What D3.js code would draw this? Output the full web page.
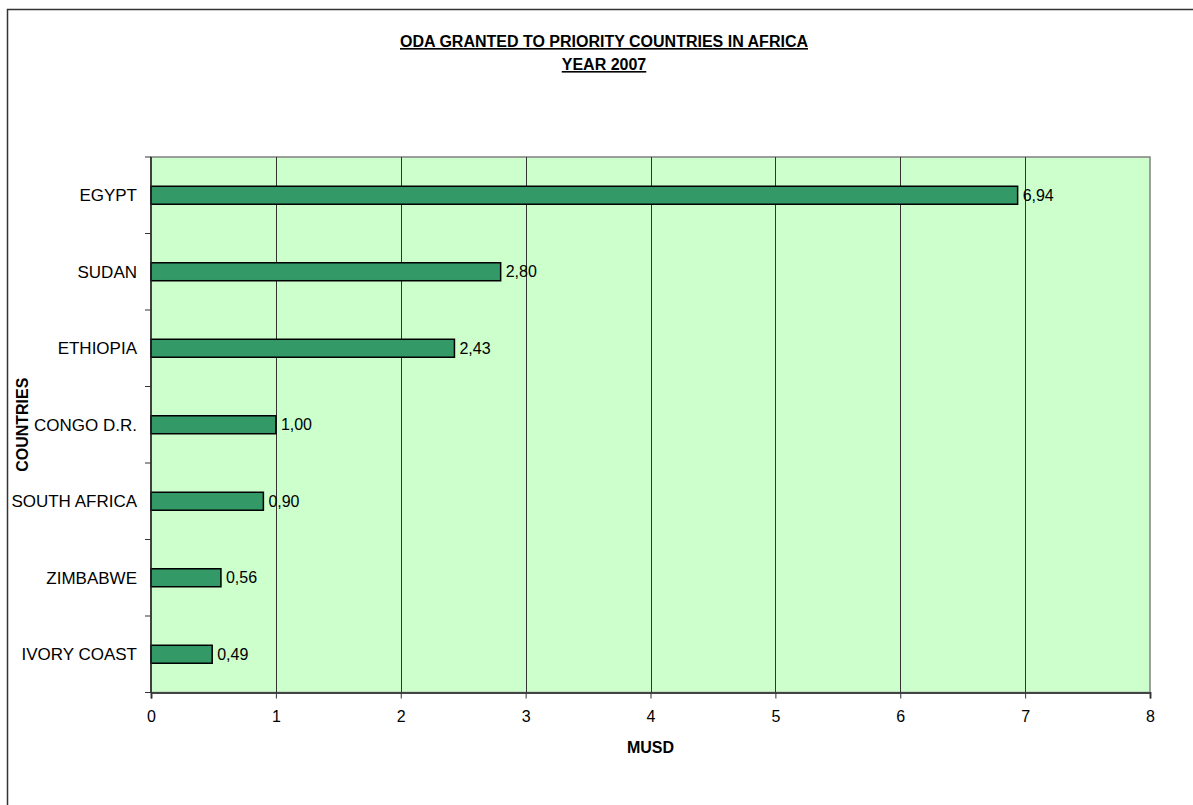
<!DOCTYPE html>
<html>
<head>
<meta charset="utf-8">
<script src="https://cdn.jsdelivr.net/npm/d3@7"></script>
<style>
  html, body { margin: 0; padding: 0; background: #ffffff; }
  svg { display: block; }
  text { font-family: "Liberation Sans", Arial, sans-serif; fill: #000; }
</style>
</head>
<body>
<svg id="chart" width="1193" height="805"></svg>
<script>
// ODA granted to priority countries in Africa, 2007 (million USD)
const countries = ["EGYPT", "SUDAN", "ETHIOPIA", "CONGO D.R.", "SOUTH AFRICA", "ZIMBABWE", "IVORY COAST"];
const amounts = [6.94, 2.80, 2.43, 1.00, 0.90, 0.56, 0.49];
const xTicks = [0, 1, 2, 3, 4, 5, 6, 7, 8];
const titleLines = ["ODA GRANTED TO PRIORITY COUNTRIES IN AFRICA", "YEAR 2007"];
const xTitle = "MUSD";
const yTitle = "COUNTRIES";

const svg = d3.select("#chart");
const W = 1193, H = 805;
const plot = { left: 151, top: 157, right: 1150, bottom: 692.5 };

const fmt = d3.formatLocale({ decimal: ",", thousands: ".", grouping: [3], currency: ["", ""] }).format(".2f");

// outer chart frame (runs past the right and bottom edges)
svg.append("rect")
  .attr("x", 7.5).attr("y", 9.5)
  .attr("width", W + 20).attr("height", H + 20)
  .attr("fill", "#fff").attr("stroke", "#333").attr("stroke-width", 1.5);

const x = d3.scaleLinear().domain([0, 8]).range([plot.left, plot.right]);
const y = d3.scaleBand().domain(countries).range([plot.top, plot.bottom]).paddingInner(0).paddingOuter(0);
const barH = y.bandwidth() * 0.235;

// plot background
svg.append("rect")
  .attr("x", plot.left).attr("y", plot.top)
  .attr("width", plot.right - plot.left).attr("height", plot.bottom - plot.top)
  .attr("fill", "#ccffcc").attr("stroke", "#808080").attr("stroke-width", 1.5);

// vertical gridlines
svg.append("g").selectAll("line")
  .data(xTicks.filter(d => d > 0 && d < 8))
  .join("line")
  .attr("x1", d => Math.round(x(d)) + 0.5).attr("x2", d => Math.round(x(d)) + 0.5)
  .attr("y1", plot.top).attr("y2", plot.bottom)
  .attr("stroke", "#333").attr("stroke-width", 1);

// bars
svg.append("g").selectAll("rect")
  .data(countries)
  .join("rect")
  .attr("x", x(0))
  .attr("y", (d) => y(d) + y.bandwidth() / 2 - barH / 2)
  .attr("width", (d, i) => x(amounts[i]) - x(0))
  .attr("height", barH)
  .attr("fill", "#339966")
  .attr("stroke", "#000").attr("stroke-width", 1.5);

// value labels
svg.append("g").selectAll("text")
  .data(countries)
  .join("text")
  .attr("x", (d, i) => x(amounts[i]) + 5)
  .attr("y", d => y(d) + y.bandwidth() / 2)
  .attr("dy", "0.35em")
  .attr("font-size", 16)
  .text((d, i) => fmt(amounts[i]));

// x axis
const xAxis = svg.append("g")
  .attr("transform", `translate(0,${plot.bottom})`)
  .call(d3.axisBottom(x).tickValues(xTicks).tickSize(6).tickPadding(12).tickFormat(d3.format("d")));
xAxis.select(".domain").attr("stroke", "#444").attr("stroke-width", 2);
xAxis.selectAll(".tick line").attr("stroke", "#333");
xAxis.selectAll("text").attr("font-size", 16).attr("font-family", "Liberation Sans, Arial, sans-serif").attr("fill", "#000");

// y axis: category labels sit between boundary ticks
const yAxisG = svg.append("g");
const bounds = countries.map(c => y(c)).concat([plot.bottom]);
yAxisG.append("line")
  .attr("x1", plot.left).attr("x2", plot.left)
  .attr("y1", plot.top).attr("y2", plot.bottom)
  .attr("stroke", "#222").attr("stroke-width", 1.5);
yAxisG.selectAll("line.tk")
  .data(bounds)
  .join("line").attr("class", "tk")
  .attr("x1", plot.left - 6).attr("x2", plot.left)
  .attr("y1", d => d).attr("y2", d => d)
  .attr("stroke", "#333").attr("stroke-width", 1);
yAxisG.selectAll("text")
  .data(countries)
  .join("text")
  .attr("x", plot.left - 14)
  .attr("y", d => y(d) + y.bandwidth() / 2)
  .attr("dy", "0.35em")
  .attr("text-anchor", "end")
  .attr("font-size", 17)
  .text(d => d);

// titles
const title = svg.append("g");
titleLines.forEach((line, i) => {
  title.append("text")
    .attr("x", 604).attr("y", 47 + i * 23)
    .attr("text-anchor", "middle")
    .attr("font-size", 16).attr("font-weight", "bold")
    .attr("text-decoration", "underline")
    .text(line);
});

svg.append("text")
  .attr("x", (plot.left + plot.right) / 2).attr("y", 753)
  .attr("text-anchor", "middle")
  .attr("font-size", 16).attr("font-weight", "bold")
  .text(xTitle);

svg.append("text")
  .attr("transform", `translate(28,${(plot.top + plot.bottom) / 2}) rotate(-90)`)
  .attr("text-anchor", "middle")
  .attr("font-size", 16).attr("font-weight", "bold")
  .text(yTitle);
</script>
</body>
</html>
